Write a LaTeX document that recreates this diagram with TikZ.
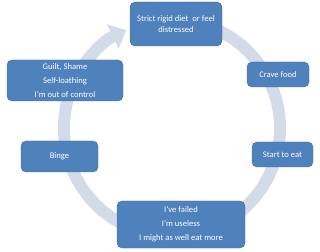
\documentclass[tikz,border=0pt]{standalone}
\usepackage{fontspec}
\setmainfont{Carlito}
\usetikzlibrary{arrows.meta}
\definecolor{boxblue}{HTML}{4F81BD}
\definecolor{ringblue}{HTML}{D3DAE8}
\begin{document}
\begin{tikzpicture}[x=1pt,y=1pt,
    stagebox/.style={rectangle, rounded corners=5pt, fill=boxblue, draw=boxblue!85!black,
        line width=0.4pt, text=white, align=center, inner sep=2pt,
        font=\fontsize{8.6}{14}\selectfont},
    ring/.style={draw=ringblue, line width=12pt}]
    \useasboundingbox (0,0) rectangle (320,251);

    % Ring
    \coordinate (centre) at (172,123);
    \draw[ring, -{Triangle[length=15pt,width=26pt]}] ([shift={(70:108)}]centre) arc (70:-245:108);

    % Stages
    \node[stagebox, minimum width=92pt, minimum height=44pt, font=\fontsize{8.6}{11}\selectfont] (diet) at (176,227) {Strict rigid diet\ \ or feel\\distressed};
    \node[stagebox, minimum width=62pt, minimum height=25pt] (crave) at (278,176.5) {Crave food};
    \node[stagebox, minimum width=61pt, minimum height=25pt] (eat) at (282.5,96.5) {Start to eat};
    \node[stagebox, minimum width=128pt, minimum height=47pt] (failed) at (181,26.5) {I've failed\\I'm useless\\I might as well eat more};
    \node[stagebox, minimum width=77pt, minimum height=31pt] (binge) at (59.5,94.5) {Binge};
    \node[stagebox, minimum width=116pt, minimum height=41pt] (guilt) at (65,170.5) {Guilt, Shame\\Self-loathing\\I'm out of control};
\end{tikzpicture}
\end{document}
